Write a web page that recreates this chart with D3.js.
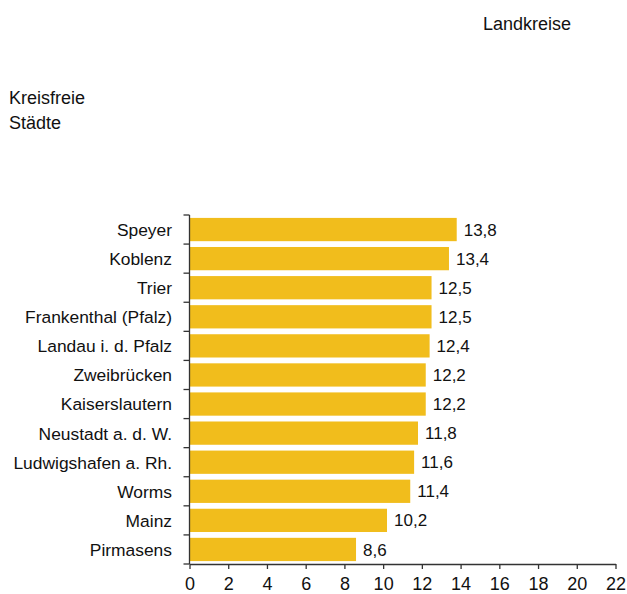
<!DOCTYPE html>
<html><head><meta charset="utf-8">
<script src="https://cdn.jsdelivr.net/npm/d3@7"></script>
<style>
body{margin:0;background:#fff;}
text{font-family:"Liberation Sans",Arial,sans-serif;fill:#111;}
</style></head>
<body>
<svg id="chart" width="627" height="594"></svg>
<script>
const categories = ["Speyer","Koblenz","Trier","Frankenthal (Pfalz)","Landau i. d. Pfalz","Zweibrücken","Kaiserslautern","Neustadt a. d. W.","Ludwigshafen a. Rh.","Worms","Mainz","Pirmasens"];
const values = [13.8,13.4,12.5,12.5,12.4,12.2,12.2,11.8,11.6,11.4,10.2,8.6];
const xTicks = [0,2,4,6,8,10,12,14,16,18,20,22];

const svg = d3.select("#chart");
const x = d3.scaleLinear().domain([0,22]).range([189.5,615.5]);
const y = d3.scaleBand().domain(categories).range([215,564]).paddingInner(0.2).paddingOuter(0.1);
const fmt = v => d3.format(".1f")(v).replace(".", ",");

svg.append("text").attr("x",483).attr("y",30).attr("font-size",18).text("Landkreise");
svg.append("text").attr("x",9).attr("y",104).attr("font-size",18).text("Kreisfreie");
svg.append("text").attr("x",9).attr("y",129).attr("font-size",18).text("Städte");

svg.selectAll("rect.bar").data(values).join("rect").attr("class","bar")
  .attr("x",x(0)+0.5).attr("y",(d,i)=>y(categories[i]))
  .attr("width",d=>x(d)-x(0)-0.5).attr("height",y.bandwidth())
  .attr("fill","#f1bd1c");

svg.selectAll("text.val").data(values).join("text").attr("class","val")
  .attr("x",d=>x(d)+7).attr("y",(d,i)=>y(categories[i])+y.bandwidth()/2)
  .attr("dy","0.36em").attr("font-size",17).text(fmt);

// y axis
const g = svg.append("g");
g.append("line").attr("x1",x(0)).attr("x2",x(0)).attr("y1",215).attr("y2",564).attr("stroke","#333").attr("stroke-width",1.3);
d3.range(categories.length+1).forEach(i=>{
  const yy = 215 + i*(349/categories.length);
  g.append("line").attr("x1",x(0)-6).attr("x2",x(0)).attr("y1",yy).attr("y2",yy).attr("stroke","#333").attr("stroke-width",1.3);
});
svg.selectAll("text.cat").data(categories).join("text").attr("class","cat")
  .attr("x",172).attr("y",d=>y(d)+y.bandwidth()/2).attr("dy","0.37em")
  .attr("text-anchor","end").attr("font-size",17.4).text(d=>d);

// x axis
const xa = svg.append("g").attr("transform","translate(0,564)")
  .call(d3.axisBottom(x).tickValues(xTicks).tickSize(5).tickSizeOuter(0).tickFormat(d=>d));
xa.select(".domain").attr("stroke","#333").attr("stroke-width",1.3);
xa.selectAll(".tick line").attr("stroke","#333").attr("stroke-width",1.3);
xa.selectAll(".tick text").attr("font-size",18).attr("font-family","Liberation Sans, Arial, sans-serif").attr("fill","#111").attr("y",13);
</script>
</body></html>
